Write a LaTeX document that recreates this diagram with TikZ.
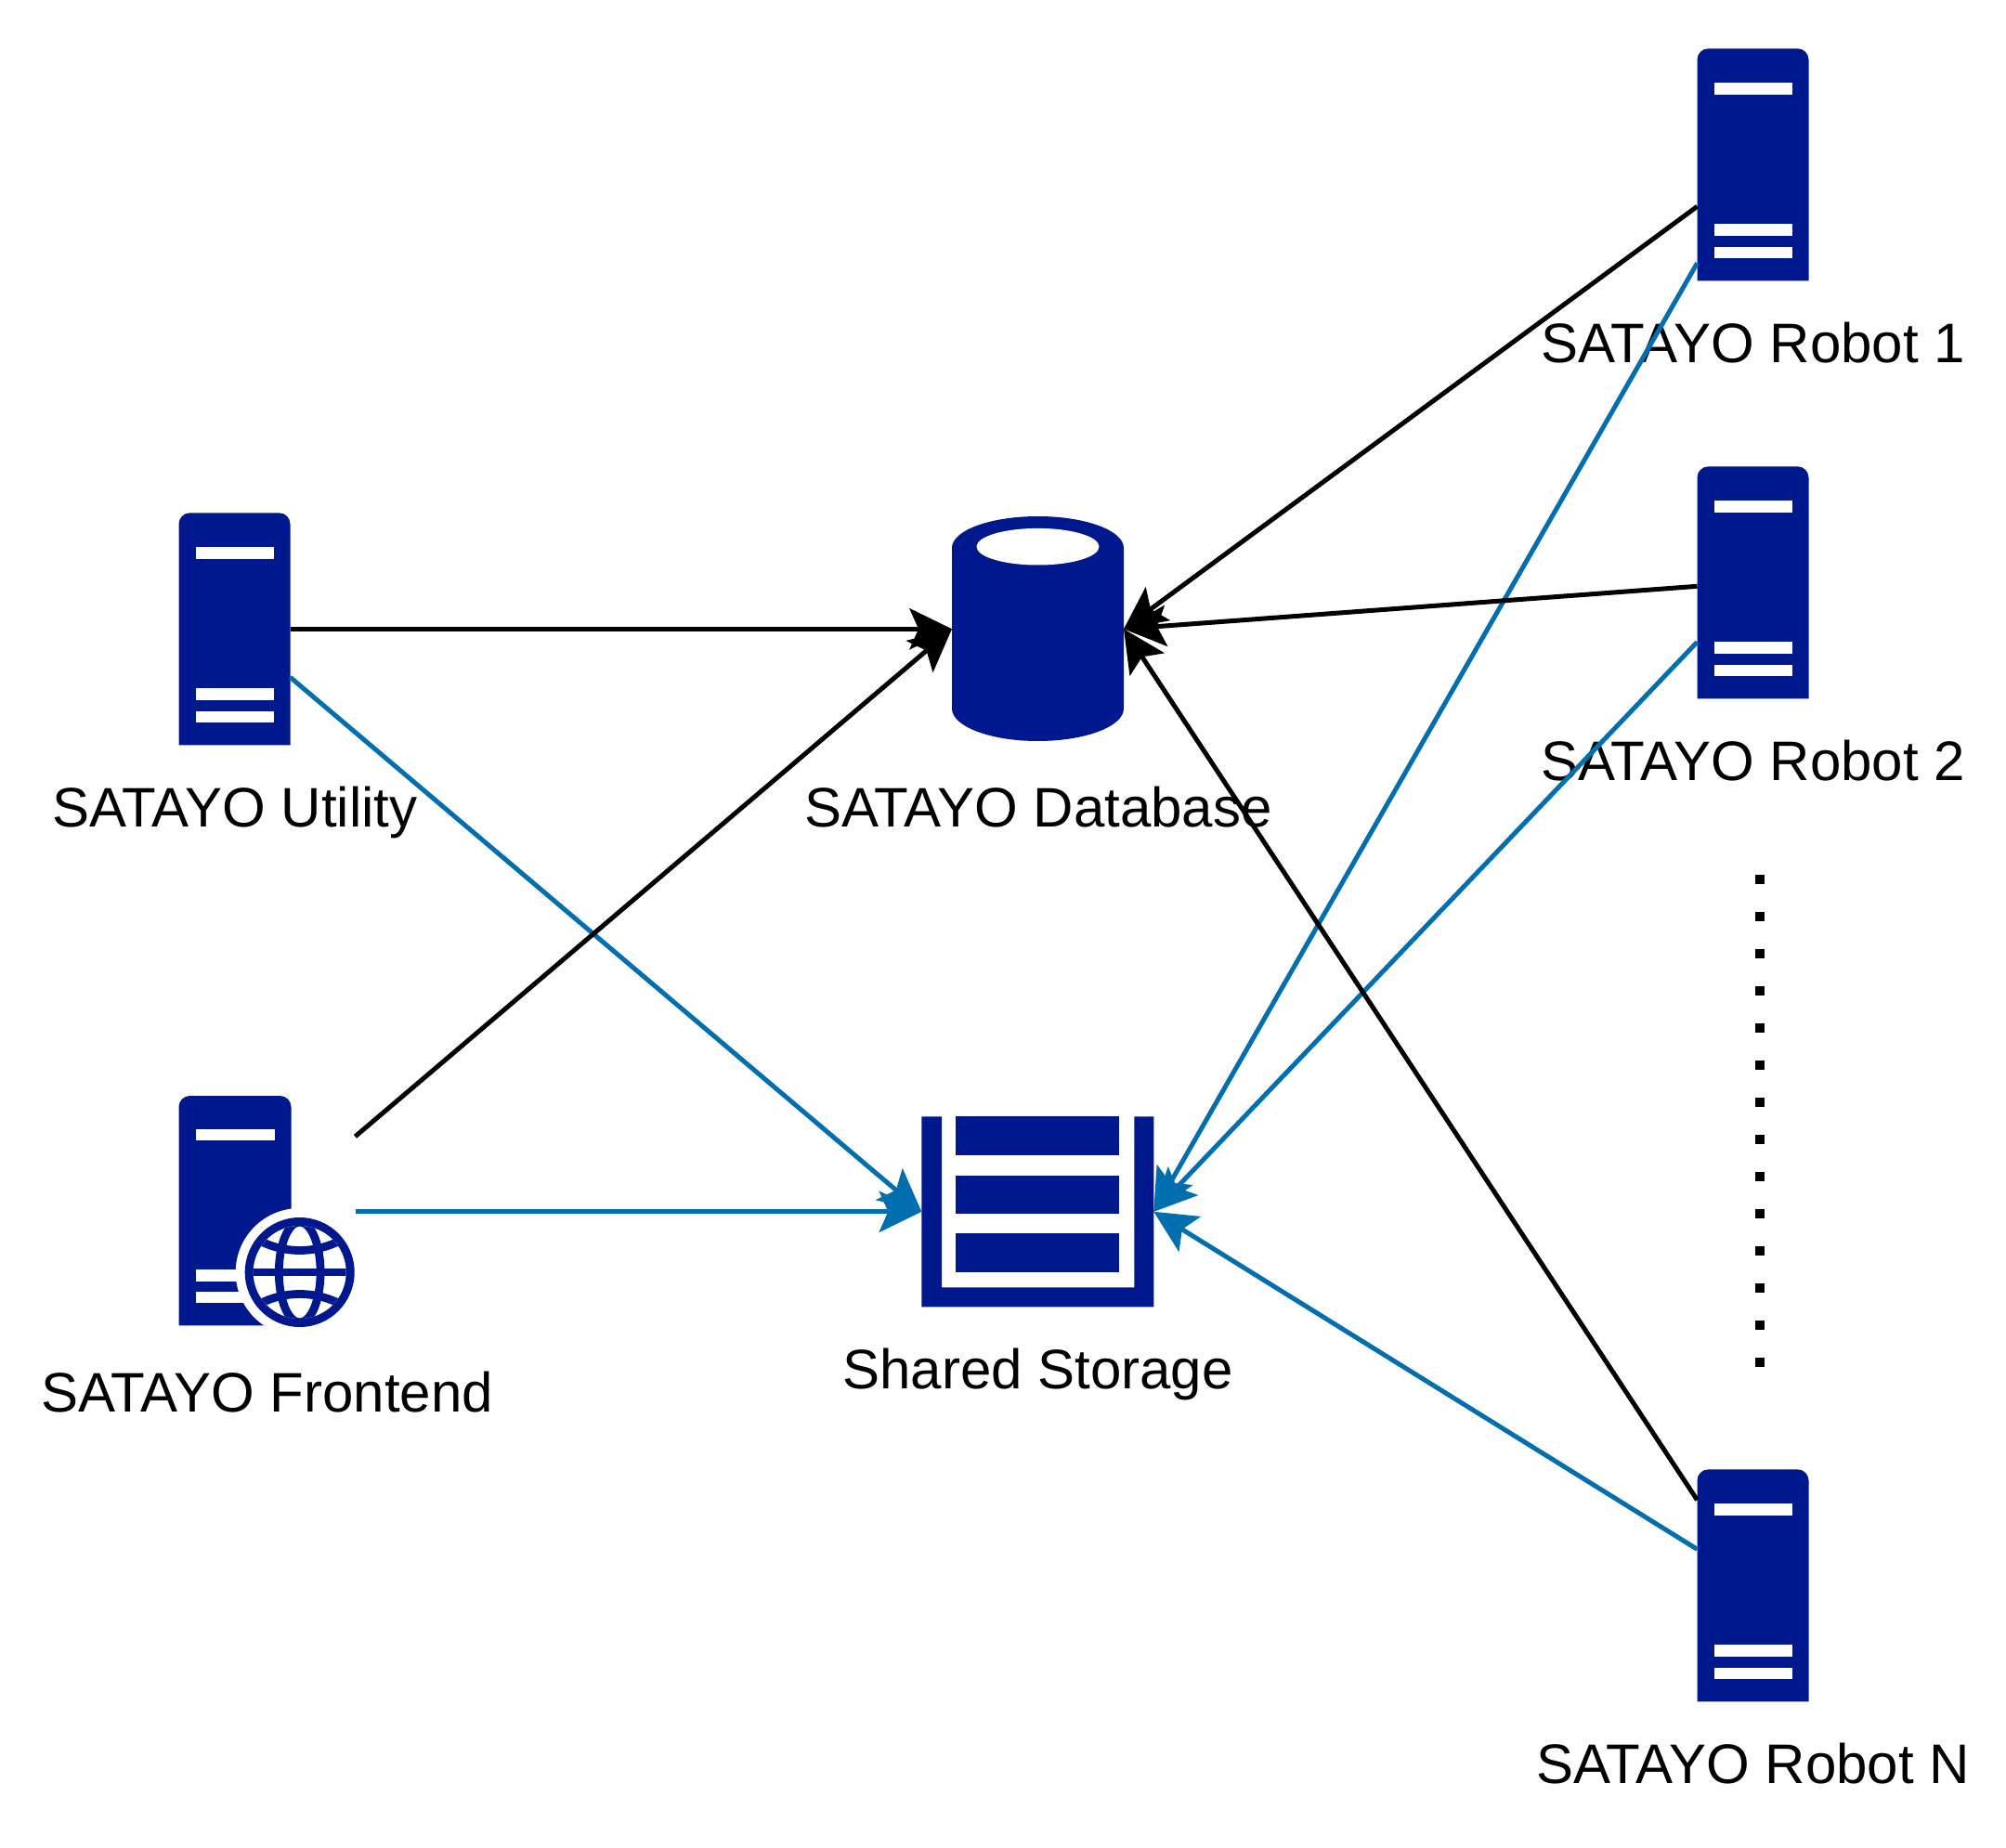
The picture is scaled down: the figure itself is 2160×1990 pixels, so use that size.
\documentclass[tikz,border=0pt]{standalone}
\usepackage{fontspec}
\setmainfont{Liberation Sans}
\usetikzlibrary{arrows.meta,calc}
\definecolor{navyicon}{HTML}{00188D}
\definecolor{linkblue}{HTML}{006EAF}
\tikzset{
  anchorbox/.style={draw=none,fill=none,inner sep=0pt,outer sep=0pt,minimum width=#1,anchor=north west},
  lbl/.style={inner sep=0pt,outer sep=0pt,anchor=base,font=\fontsize{30}{36}\selectfont,text=black},
  tipped/.style={line width=2.5pt,-{Stealth[length=23pt,width=22.5pt,inset=5pt,line width=0pt]}},
  blackline/.style={tipped,draw=black},
  blueline/.style={tipped,draw=linkblue},
}
% server icon: name, x, y of its upper left corner (in reference pixels)
\newcommand{\serverhere}[3]{%
  \node[anchorbox=60pt,minimum height=125pt] (#1) at (#2,#3) {};
  \begin{scope}[shift={(#2,#3)}]
    \fill[navyicon] (0,250) -- (0,12) .. controls (0,5.4) and (5.4,0) .. (12,0) -- (108,0)
      .. controls (114.6,0) and (120,5.4) .. (120,12) -- (120,250) -- cycle;
    \fill[white] (18,37) rectangle (102,49.3);
    \fill[white] (18,189) rectangle (102,201.3);
    \fill[white] (18,213.3) rectangle (102,225.3);
  \end{scope}}
\begin{document}
\begin{tikzpicture}[x=0.5pt,y=-0.5pt]
\useasboundingbox (0,0) rectangle (2160,1990);
\fill[white] (0,0) rectangle (2160,1990);

% servers
\serverhere{ut}{192.5}{552.3}
\serverhere{r1}{1827.5}{52.3}
\serverhere{r2}{1827.5}{502.3}
\serverhere{rn}{1827.5}{1582.3}

% frontend server with globe
\node[anchorbox=95pt,minimum height=125pt] (fe) at (192.5,1179.8) {};
\begin{scope}[shift={(192.5,1180)}]
  \fill[navyicon] (0,247.3) -- (0,12) .. controls (0,5.4) and (5.4,0) .. (12,0) -- (109,0)
    .. controls (115.6,0) and (121,5.4) .. (121,12) -- (121,247.3) -- cycle;
  \fill[white] (18.5,36.3) rectangle (103,48.3);
  \fill[white] (18,187) rectangle (110,199.5);
  \fill[white] (18,211) rectangle (110,223.3);
\end{scope}
\begin{scope}[shift={(322.7,1370)}]
  \fill[white] (0,0) circle [radius=34.5pt];
  \fill[navyicon] (0,0) circle [radius=29.5pt];
  \begin{scope}
    \clip (0,0) circle [radius=25pt];
    \fill[white] (-60,-60) rectangle (60,60);
    \draw[navyicon,line width=4.4pt] (0,0) ellipse [x radius=11.2pt,y radius=27pt];
    \draw[navyicon,line width=4.2pt] (-60,0) -- (60,0);
    \draw[navyicon,line width=4.4pt] (-54,-40) .. controls (-20,-18) and (20,-18) .. (54,-40);
    \draw[navyicon,line width=4.4pt] (-54,40) .. controls (-20,18) and (20,18) .. (54,40);
  \end{scope}
\end{scope}

% database
\node[anchorbox=92.5pt,minimum height=121.3pt] (db) at (1025,556) {};
\fill[navyicon] (1025,590)
  .. controls (1025,571.2) and (1066.4,556) .. (1117.5,556)
  .. controls (1168.6,556) and (1210,571.2) .. (1210,590)
  -- (1210,763)
  .. controls (1210,782.3) and (1168.6,798) .. (1117.5,798)
  .. controls (1066.4,798) and (1025,782.3) .. (1025,763) -- cycle;
\fill[white] (1117.5,588.7) ellipse [x radius=33pt,y radius=9.9pt];

% shared storage
\node[anchorbox=125pt,minimum height=102.5pt] (st) at (992.3,1202.3) {};
\fill[navyicon] (992.3,1202.3) -- (1014,1202.3) -- (1014,1386.3) -- (1221.3,1386.3)
  -- (1221.3,1202.3) -- (1242.3,1202.3) -- (1242.3,1407.3) -- (992.3,1407.3) -- cycle;
\fill[navyicon] (1029.3,1202.3) rectangle (1205,1244.3);
\fill[navyicon] (1029.3,1265.7) rectangle (1205,1307);
\fill[navyicon] (1029.3,1328.3) rectangle (1205,1370.3);

% labels
\node[lbl] (lr1) at (1887.5,391) {SATAYO Robot 1};
\node[lbl] (lr2) at (1887.5,840) {SATAYO Robot 2};
\node[lbl] (lrn) at (1887.5,1920) {SATAYO Robot N};
\node[lbl] (lut) at (252.8,890) {SATAYO Utility};
\node[lbl] (lfe) at (287.5,1520) {SATAYO Frontend};
\node[lbl] (ldb) at (1117.8,890) {SATAYO Database};
\node[lbl] (lst) at (1117.5,1495) {Shared Storage};

% connector ports
\coordinate (utb) at ($(ut.north east)+(0,177)$);
\coordinate (fea) at ($(fe.north east)+(0,44)$);
\coordinate (r1a) at ($(r1.north west)+(0,170)$);
\coordinate (r1b) at ($(r1.north west)+(0,231)$);
\coordinate (r2a) at ($(r2.north west)+(0,129)$);
\coordinate (r2b) at ($(r2.north west)+(0,189)$);
\coordinate (rna) at ($(rn.north west)+(0,33)$);
\coordinate (rnb) at ($(rn.north west)+(0,86)$);

% connectors
\draw[blueline] (utb) -- (st.west);
\draw[blueline] (fe.east) -- (st.west);
\draw[blueline] (r1b) -- (st.east);
\draw[blueline] (r2b) -- (st.east);
\draw[blueline] (rnb) -- (st.east);
\draw[blackline] (ut.east) -- (db.west);
\draw[blackline] (fea) -- (db.west);
\draw[blackline] (r1a) -- (db.east);
\draw[blackline] (r2a) -- (db.east);
\draw[blackline] (rna) -- (db.east);

% ellipsis between robots
\coordinate (dotsa) at (1895,942.3);
\coordinate (dotsb) at (1895,1472.3);
\draw[line width=5pt,dash pattern=on 5pt off 15pt] (dotsa) -- (dotsb);
\end{tikzpicture}
\end{document}
